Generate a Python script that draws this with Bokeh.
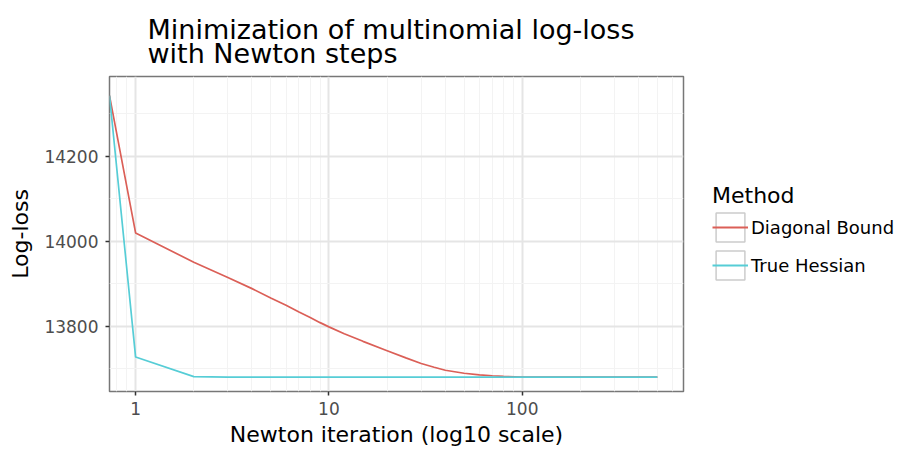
import math
from bokeh.plotting import figure
from bokeh.layouts import row
from bokeh.models import (Range1d, Title, Legend, LegendItem, FixedTicker,
                          BasicTickFormatter, ColumnDataSource)
from bokeh.embed import file_html
from bokeh.resources import INLINE

# ---- data ----
iterations = [0, 1, 2, 3, 4, 5, 6, 7, 8, 9, 10, 12, 15, 20, 25, 30, 35, 40,
              50, 60, 70, 80, 100, 150, 200, 300, 500]
diagonal_bound = [14343, 14020, 13951, 13915, 13889, 13867, 13850, 13834,
                  13821, 13809, 13799, 13783, 13765, 13743, 13726, 13713,
                  13704, 13697, 13690, 13686, 13684, 13682.5, 13681, 13681,
                  13681, 13681, 13681]
true_hessian = [14343, 13728, 13682, 13681, 13681, 13681, 13681, 13681,
                13681, 13681, 13681, 13681, 13681, 13681, 13681, 13681,
                13681, 13681, 13681, 13681, 13681, 13681, 13681, 13681,
                13681, 13681, 13681]
methods = ["Diagonal Bound", "True Hessian"]
colors = ["#db5f57", "#56cdd6"]
x_major = [1, 10, 100]
x_minor = [0.8, 0.9, 2, 3, 4, 5, 6, 7, 8, 9, 20, 30, 40, 50, 60, 70, 80, 90,
           200, 300, 400, 500, 600]
y_major = [13800, 14000, 14200]
y_minor = [13700, 13900, 14100, 14300]
title_text = "Minimization of multinomial log-loss\nwith Newton steps"

X_LO, X_HI = 0.7328, 682.3
Y_LO, Y_HI = 13647, 14388

FONT = "DejaVu Sans"

p = figure(width=690, height=450, x_axis_type="log",
           x_range=Range1d(X_LO, X_HI), y_range=Range1d(Y_LO, Y_HI),
           output_backend="svg", toolbar_location=None, title=None,
           min_border_left=109, min_border_right=7, min_border_top=76,
           min_border_bottom=59)
p.background_fill_color = "white"
p.border_fill_color = "white"
p.outline_line_color = "#777777"
p.outline_line_width = 1.5

t = Title(text=title_text, align="left", offset=38,
          text_font=FONT, text_font_size="27px", text_font_style="normal",
          text_color="black", text_line_height=0.78, standoff=14)
p.add_layout(t, "above")

# ticks
p.xaxis.ticker = FixedTicker(ticks=x_major, minor_ticks=x_minor)
p.xaxis.major_label_overrides = {tk: str(tk) for tk in x_major}
p.yaxis.ticker = FixedTicker(ticks=y_major, minor_ticks=y_minor)
p.yaxis.formatter = BasicTickFormatter(use_scientific=False)

for ax in (p.xaxis, p.yaxis):
    ax.axis_line_color = None
    ax.major_tick_line_color = "#333333"
    ax.major_tick_line_width = 1.5
    ax.major_tick_out = 4
    ax.major_tick_in = 0
    ax.minor_tick_line_color = None
    ax.major_label_text_font = FONT
    ax.major_label_text_font_size = "17px"
    ax.major_label_text_color = "#4d4d4d"
    ax.axis_label_text_font = FONT
    ax.axis_label_text_font_size = "22px"
    ax.axis_label_text_font_style = "normal"
    ax.axis_label_text_color = "black"

p.xaxis.axis_label = "Newton iteration (log10 scale)"
p.yaxis.axis_label = "Log-loss"
p.xaxis.major_label_standoff = 6
p.xaxis.axis_label_standoff = 4
p.yaxis.major_label_standoff = 7
p.yaxis.axis_label_standoff = 8

for g in (p.xgrid, p.ygrid):
    g.grid_line_color = "#e5e5e5"
    g.grid_line_width = 2
    g.minor_grid_line_color = "#f3f3f3"
    g.minor_grid_line_width = 1

# data lines (iteration 0 drawn at the left edge, like -Inf on a log scale)
xs = [X_LO if it == 0 else it for it in iterations]
series = [diagonal_bound, true_hessian]
for name, vals, col in zip(methods, series, colors):
    p.line(xs, vals, line_color=col, line_width=1.7)

# ---- legend panel (separate canvas to the right of the plot) ----
leg = figure(width=207, height=450, x_range=Range1d(0, 1), y_range=Range1d(0, 1),
             output_backend="svg", toolbar_location=None, title=None,
             x_axis_location=None, y_axis_location=None, min_border=0)
leg.outline_line_color = None
leg.grid.visible = False
leg.background_fill_color = "white"
leg.border_fill_color = "white"

items = []
for name, col in zip(methods, colors):
    key_src = ColumnDataSource(dict(x=[math.nan], y=[math.nan]))
    box = leg.rect(x="x", y="y", width=1, height=1, source=key_src,
                   fill_color="white", line_color="#cccccc", line_width=1.5)
    ln = leg.line(x="x", y="y", source=key_src, line_color=col, line_width=2.2)
    items.append(LegendItem(label=name, renderers=[box, ln]))

legend = Legend(items=items, title="Method", location=(22, 108),
                padding=0, margin=0, spacing=2,
                glyph_width=36, glyph_height=36, label_standoff=3,
                border_line_color=None, background_fill_alpha=0,
                title_text_font=FONT, title_text_font_size="22px",
                title_text_font_style="normal", title_text_color="black",
                title_standoff=1,
                label_text_font=FONT, label_text_font_size="18px",
                label_text_color="black")
leg.add_layout(legend, "center")

layout = row(p, leg, spacing=0)
open("out.html", "w").write(file_html(layout, INLINE))
